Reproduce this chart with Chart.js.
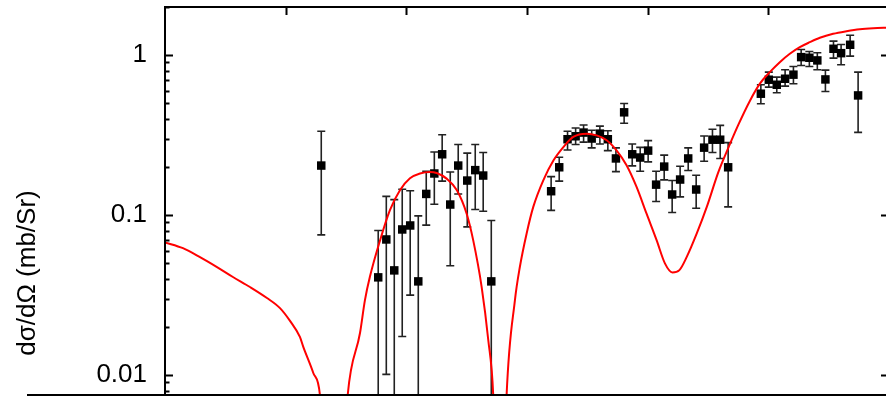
<!DOCTYPE html>
<html>
<head>
<meta charset="utf-8">
<script src="https://cdn.jsdelivr.net/npm/chart.js@4.4.1/dist/chart.umd.min.js"></script>
<style>
    html, body { margin: 0; padding: 0; background: #fff; overflow: hidden; }
    #wrap { width: 892px; height: 396px; }
</style>
</head>
<body>
<div id="wrap"><canvas id="xs" width="892" height="396"></canvas></div>
<script>
// measured cross sections (deg, mb/sr) with error bar bounds
const angle = [12.95, 17.67, 18.34, 19.00, 19.66, 20.32, 20.99, 21.65, 22.32, 22.97, 23.64, 24.30, 25.05, 25.71, 26.37, 27.04,
    32.00, 32.67, 33.36, 34.03, 34.69, 35.36, 36.04, 36.70, 37.37, 38.05, 38.72, 39.38, 40.04, 40.70, 41.37, 42.03, 42.69,
    43.36, 44.02, 44.68, 45.37, 46.01, 46.67, 49.38, 50.04, 50.70, 51.39, 52.08, 52.72, 53.40, 54.06, 54.73, 55.40, 56.03,
    56.78, 57.44];
const sigma = [0.204, 0.0408, 0.0704, 0.0451, 0.0813, 0.0861, 0.0385, 0.1356, 0.182, 0.240, 0.1164, 0.204, 0.1644, 0.191,
    0.1767, 0.0385, 0.141, 0.199, 0.298, 0.311, 0.328, 0.301, 0.323, 0.298, 0.226, 0.439, 0.240, 0.229, 0.253, 0.155, 0.201,
    0.1345, 0.1668, 0.226, 0.1445, 0.264, 0.296, 0.296, 0.199, 0.574, 0.702, 0.653, 0.712, 0.755, 0.972, 0.963, 0.927, 0.705,
    1.096, 1.029, 1.161, 0.560];
const sigmaHigh = [0.334, 0.0801, 0.131, 0.125, 0.145, 0.142, 0.0989, 0.188, 0.248, 0.318, 0.186, 0.276, 0.244, 0.276, 0.246,
    0.0925, 0.174, 0.230, 0.334, 0.350, 0.366, 0.339, 0.360, 0.337, 0.263, 0.499, 0.278, 0.265, 0.292, 0.188, 0.237, 0.1644,
    0.202, 0.263, 0.1775, 0.312, 0.344, 0.364, 0.284, 0.653, 0.783, 0.729, 0.811, 0.850, 1.085, 1.055, 1.035, 0.806, 1.223,
    1.166, 1.333, 0.783];
const sigmaLow = [0.0752, 0.005, 0.0101, 0.005, 0.0174, 0.0316, 0.005, 0.0865, 0.117, 0.163, 0.0482, 0.1356, 0.0844, 0.1084,
    0.1057, 0.005, 0.107, 0.163, 0.255, 0.276, 0.286, 0.263, 0.278, 0.253, 0.187, 0.375, 0.203, 0.188, 0.215, 0.1216, 0.166,
    0.1038, 0.130, 0.190, 0.1104, 0.217, 0.246, 0.226, 0.1125, 0.497, 0.631, 0.582, 0.640, 0.663, 0.862, 0.850, 0.811, 0.593,
    0.958, 0.871, 0.986, 0.329];

// calculation (red curve)
const calcAngle = [0, 1.49, 2.90, 4.31, 5.63, 7.04, 8.45, 9.53, 10.36, 11.18, 11.46, 12.29, 12.84, 14.0, 15.14, 16.16, 16.57,
    16.98, 17.81, 18.64, 19.47, 20.30, 21.13, 21.96, 22.51, 23.34, 24.19, 25.00, 25.54, 26.24, 26.79, 27.20, 27.75, 28.31,
    29.00, 29.41, 29.97, 30.52, 31.35, 32.20, 33.03, 33.83, 34.94, 35.77, 36.60, 37.42, 38.25, 39.08, 39.91, 40.74, 41.43,
    42.05, 42.63, 43.24, 44.07, 44.90, 45.85, 46.70, 47.50, 48.49, 49.30, 50.12, 50.95, 51.78, 52.61, 53.44, 54.27, 55.37,
    56.48, 57.58, 58.69, 60];
const calcSigma = [0.0675, 0.0621, 0.0546, 0.0473, 0.0410, 0.0355, 0.0303, 0.0262, 0.0218, 0.0173, 0.0150, 0.0103, 0.0075,
    0.0003, 0.0075, 0.0183, 0.0294, 0.0411, 0.0690, 0.1073, 0.143, 0.170, 0.182, 0.186, 0.1834, 0.169, 0.143, 0.102, 0.0697,
    0.0356, 0.01656, 0.0075, 0.0003, 0.0075, 0.0294, 0.0475, 0.0768, 0.1125, 0.165, 0.220, 0.267, 0.308, 0.323, 0.315, 0.294,
    0.254, 0.205, 0.150, 0.102, 0.0697, 0.0499, 0.0438, 0.0453, 0.0548, 0.0768, 0.1125, 0.185, 0.265, 0.365, 0.521, 0.663,
    0.783, 0.904, 1.020, 1.122, 1.205, 1.284, 1.360, 1.412, 1.453, 1.474, 1.485];

const yTicks = [0.008, 0.009, 0.01, 0.02, 0.03, 0.04, 0.05, 0.06, 0.07, 0.08, 0.09,
    0.1, 0.2, 0.3, 0.4, 0.5, 0.6, 0.7, 0.8, 0.9, 1, 2];
const yMajor = [0.01, 0.1, 1];
const xTicks = [10, 20, 30, 40, 50];

const FONT = '"Liberation Sans", Arial, Helvetica, sans-serif';

const errorBars = {
    id: 'errorBars',
    beforeDatasetsDraw(chart) {
        const { ctx, chartArea: a, scales: { x, y } } = chart;
        ctx.save();
        ctx.beginPath();
        ctx.rect(a.left, a.top, a.right - a.left, a.bottom - a.top);
        ctx.clip();
        ctx.strokeStyle = '#222';
        ctx.lineWidth = 1.6;
        for (let i = 0; i < angle.length; i++) {
            const px = x.getPixelForValue(angle[i]);
            const hi = y.getPixelForValue(sigmaHigh[i]);
            const lo = y.getPixelForValue(sigmaLow[i]);
            ctx.beginPath();
            ctx.moveTo(px, hi);
            ctx.lineTo(px, lo);
            ctx.moveTo(px - 4, hi);
            ctx.lineTo(px + 4, hi);
            ctx.moveTo(px - 4, lo);
            ctx.lineTo(px + 4, lo);
            ctx.stroke();
        }
        ctx.restore();
    },
};

// border, inward ticks and the rotated axis title
const frame = {
    id: 'frame',
    afterDraw(chart) {
        const { ctx, chartArea: a, scales: { x, y } } = chart;
        ctx.save();
        ctx.strokeStyle = '#000';
        ctx.lineWidth = 2;
        ctx.beginPath();
        ctx.moveTo(a.left, a.bottom);
        ctx.lineTo(a.left, a.top);
        ctx.lineTo(a.right, a.top);
        ctx.lineTo(a.right, a.bottom);
        ctx.moveTo(27, a.bottom);
        ctx.lineTo(a.right, a.bottom);
        ctx.stroke();

        ctx.beginPath();
        yTicks.forEach(function (v) {
            const py = Math.round(y.getPixelForValue(v)) + 0.5;
            const major = yMajor.indexOf(v) !== -1;
            ctx.moveTo(a.left, py);
            ctx.lineTo(a.left + (major ? 8 : 4.5), py);
            if (major) {
                ctx.moveTo(a.right, py);
                ctx.lineTo(a.right - 8, py);
            }
        });
        xTicks.forEach(function (v) {
            const px = Math.round(x.getPixelForValue(v)) + 0.5;
            ctx.moveTo(px, a.top);
            ctx.lineTo(px, a.top + 8);
        });
        ctx.stroke();

        ctx.translate(28, 273);
        ctx.rotate(-Math.PI / 2);
        ctx.fillStyle = '#000';
        ctx.font = '26px ' + FONT;
        ctx.textAlign = 'center';
        ctx.textBaseline = 'middle';
        ctx.fillText('dσ/dΩ (mb/Sr)', 0, 0);
        ctx.restore();
    },
};

new Chart(document.getElementById('xs'), {
    data: {
        datasets: [
            {
                type: 'line',
                data: calcAngle.map(function (t, i) { return { x: t, y: calcSigma[i] }; }),
                borderColor: '#ff0000',
                borderWidth: 2,
                pointRadius: 0,
                fill: false,
                cubicInterpolationMode: 'monotone',
            },
            {
                type: 'scatter',
                data: angle.map(function (t, i) { return { x: t, y: sigma[i] }; }),
                backgroundColor: '#000',
                borderColor: '#000',
                borderWidth: 0,
                pointStyle: 'rect',
                pointRadius: 6,
            },
        ],
    },
    options: {
        responsive: false,
        animation: false,
        devicePixelRatio: 1,
        layout: { autoPadding: false, padding: { left: 0, top: 7, right: 3, bottom: 1 } },
        plugins: { legend: { display: false }, tooltip: { enabled: false } },
        scales: {
            x: {
                type: 'linear',
                min: 0,
                max: 60,
                display: false,
                ticks: { display: false },
            },
            y: {
                type: 'logarithmic',
                position: 'left',
                min: 0.0075,
                max: 2,
                grid: { display: false, drawTicks: false },
                border: { display: false },
                afterBuildTicks(scale) {
                    scale.ticks = yTicks.map(function (v) { return { value: v }; });
                },
                afterFit(scale) {
                    scale.width = 165;
                    scale.paddingTop = 0;
                    scale.paddingBottom = 0;
                },
                ticks: {
                    autoSkip: false,
                    padding: 18,
                    color: '#000',
                    font: { family: FONT, size: 26 },
                    callback(v) {
                        return yMajor.indexOf(v) !== -1 ? String(v) : '';
                    },
                },
            },
        },
    },
    plugins: [errorBars, frame],
});
</script>
</body>
</html>
